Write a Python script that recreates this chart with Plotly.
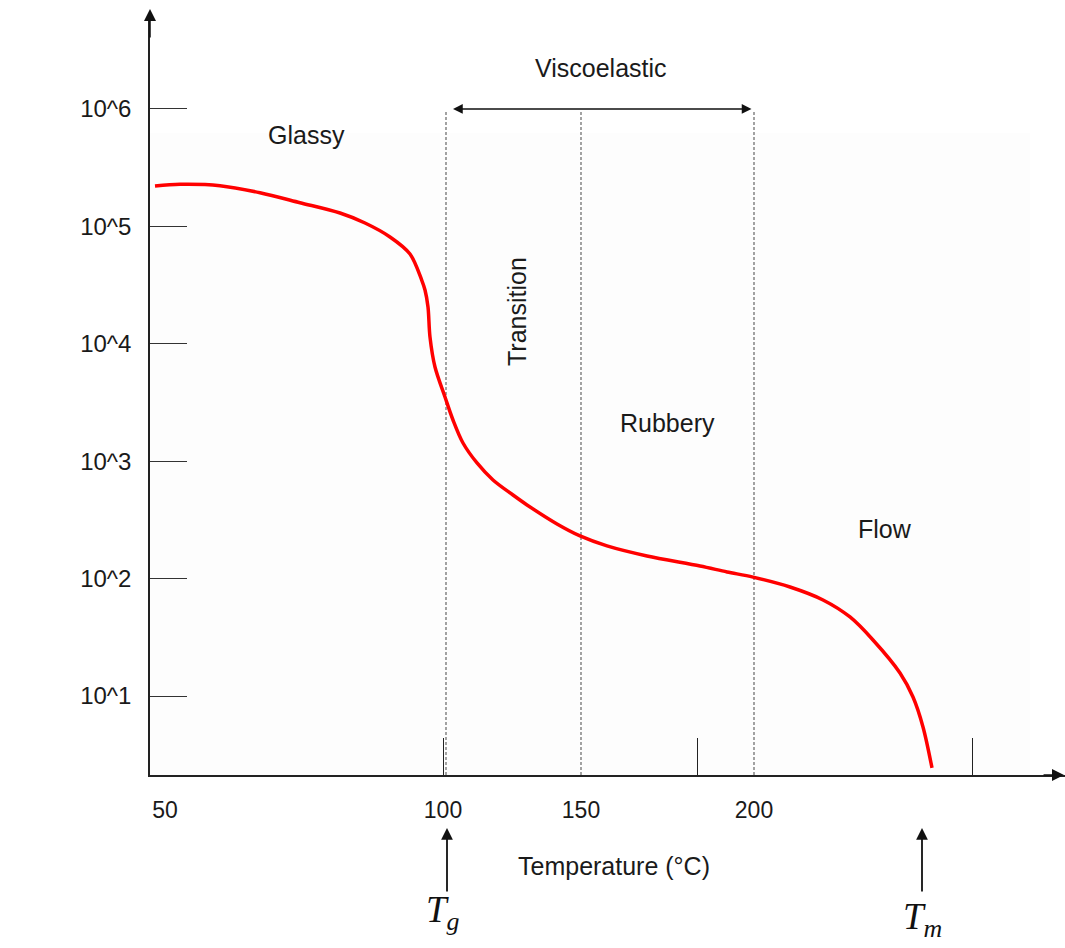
import plotly.graph_objects as go

# ---- data (schematic x-position units, modulus in MPa) ----
curve_x = [155, 180, 220, 260, 300, 340, 365, 390, 410, 421.7, 425, 428, 430, 435, 445,
           453, 463, 477, 493, 513, 527, 557, 580, 607, 647, 700, 727, 753, 790, 823,
           850, 873, 900, 913, 923, 932]
curve_E = [221000, 228500, 222300, 193600, 159200, 130000, 106900, 81300, 58200, 34900,
           28700, 20600, 11400, 6340, 3520, 2244, 1429, 966, 692, 515, 424, 292, 231,
           190, 156, 128, 114, 103, 84.8, 65.8, 47.1, 30.0, 15.7, 9.8, 5.45, 2.44]

y_tick_vals = [10, 100, 1000, 10000, 100000, 1000000]
y_tick_text = ["10^1", "10^2", "10^3", "10^4", "10^5", "10^6"]

x_label_pos = [165, 443, 581, 754]
x_label_text = ["50", "100", "150", "200"]
x_tick_marks = [443, 697, 972]

region_lines = [446, 581, 754]
Tg_x, Tm_x = 447, 922

FONT = "Liberation Sans, Arial, sans-serif"
SERIF = "Liberation Serif, DejaVu Serif, serif"
TXT = "#1a1a1a"

fig = go.Figure()
fig.add_trace(go.Scatter(x=curve_x, y=curve_E, mode="lines",
                         line=dict(color="#ff0000", width=3.5, shape="spline", smoothing=0.9),
                         hoverinfo="skip", showlegend=False))

Y_LO, Y_HI = 0.3271, 6.758

fig.update_layout(
    width=1065, height=948,
    margin=dict(l=150, r=0, t=20, b=173, pad=0),
    paper_bgcolor="white", plot_bgcolor="white",
    font=dict(family=FONT, size=25, color=TXT),
    showlegend=False,
    xaxis=dict(range=[150, 1065], showgrid=False, zeroline=False,
               showline=True, linecolor="#222", linewidth=1.5,
               tickmode="array", tickvals=x_label_pos, ticktext=x_label_text,
               ticks="", ticklabelstandoff=14,
               tickfont=dict(family=FONT, size=23, color=TXT),
               minor=dict(tickmode="array", tickvals=x_tick_marks, ticks="inside",
                          ticklen=37, tickwidth=1.3, tickcolor="#222", showgrid=False)),
    yaxis=dict(type="log", range=[Y_LO, Y_HI], showgrid=False, zeroline=False,
               showline=True, linecolor="#222", linewidth=1.5,
               tickmode="array", tickvals=y_tick_vals, ticktext=y_tick_text,
               ticks="inside", ticklen=37, tickwidth=1.3, tickcolor="#333",
               ticklabelstandoff=12,
               tickfont=dict(family=FONT, size=24, color=TXT)),
)

shapes = [dict(type="rect", xref="x", yref="y", x0=150, x1=1030, y0=10 ** Y_LO, y1=10 ** 5.796,
               fillcolor="#fdfdfd", line=dict(width=0), layer="below")]
for xv in region_lines:
    shapes.append(dict(type="line", xref="x", yref="y", x0=xv, x1=xv,
                       y0=10 ** Y_LO, y1=10 ** 5.991,
                       line=dict(color="#666", width=1.2, dash="3px,2px"), layer="below"))
fig.update_layout(shapes=shapes)

ann = []
# axis arrow heads
ann.append(dict(x=0, y=1.0146, xref="paper", yref="paper", ax=0, ay=30, text="", showarrow=True,
                arrowhead=2, arrowsize=1.6, arrowwidth=1.5, arrowcolor="#111"))
ann.append(dict(x=1.0077, y=0, xref="paper", yref="paper", ax=-30, ay=0, text="", showarrow=True,
                arrowhead=2, arrowsize=1.6, arrowwidth=1.5, arrowcolor="#111"))
# viscoelastic double arrow
ann.append(dict(x=453, y=6.0, ax=753, ay=6.0, xref="x", yref="y", axref="x", ayref="y",
                text="", showarrow=True, arrowside="end+start", arrowhead=2,
                arrowsize=1.3, arrowwidth=1.5, arrowcolor="#111"))
# region labels
ann.append(dict(x=601, y=6.349, xref="x", yref="y", text="Viscoelastic", showarrow=False))
ann.append(dict(x=306, y=5.779, xref="x", yref="y", text="Glassy", showarrow=False))
ann.append(dict(x=517, y=4.271, xref="x", yref="y", text="Transition", showarrow=False,
                textangle=-90))
ann.append(dict(x=667, y=3.325, xref="x", yref="y", text="Rubbery", showarrow=False))
ann.append(dict(x=885, y=2.422, xref="x", yref="y", text="Flow", showarrow=False))
# axis titles
ann.append(dict(x=20, y=3.095, xref="x", yref="y", text="Relaxation Modulus E, (MPa)",
                showarrow=False, textangle=-90))
ann.append(dict(x=614, y=-0.1417, xref="x", yref="paper", text="Temperature (°C)",
                showarrow=False))
# Tg / Tm arrows and labels
for xv in (Tg_x, Tm_x):
    ann.append(dict(x=xv, y=-0.0702, xref="x", yref="paper", ax=0, ay=65, text="",
                    showarrow=True, arrowhead=2, arrowsize=1.3, arrowwidth=1.8,
                    arrowcolor="#111"))
ann.append(dict(x=Tg_x - 4, y=-0.216, xref="x", yref="paper",
                text="<i>T</i><sub><i>g</i></sub>", showarrow=False,
                font=dict(family=SERIF, size=37, color="#111")))
ann.append(dict(x=Tm_x, y=-0.225, xref="x", yref="paper",
                text="<i>T</i><sub><i>m</i></sub>", showarrow=False,
                font=dict(family=SERIF, size=37, color="#111")))
fig.update_layout(annotations=ann)

fig.write_html("out.html", config={"displayModeBar": False},
               post_script="document.body.style.margin='0px';")
